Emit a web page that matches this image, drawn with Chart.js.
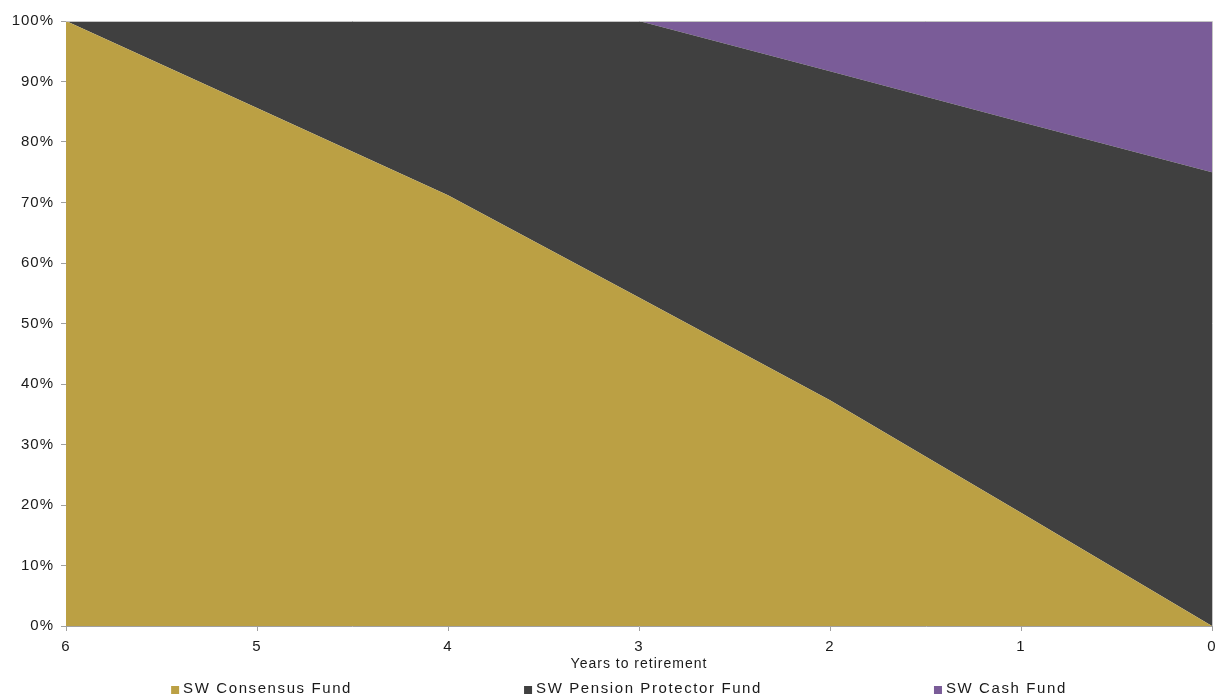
<!DOCTYPE html>
<html>
<head>
<meta charset="utf-8">
<title>Glide path</title>
<script src="https://cdn.jsdelivr.net/npm/chart.js@4/dist/chart.umd.min.js"></script>
<style>
  html, body { margin: 0; padding: 0; background: #ffffff; }
  canvas { display: block; }
</style>
</head>
<body>
<canvas id="chart" width="1220" height="695"></canvas>
<script>
// Years remaining until retirement (left to right)
const years = ['6', '5', '4', '3', '2', '1', '0'];

// Allocation to each fund, percent of the pot
const consensusFund = [100, 85.6, 71.2, 54.3, 37.3, 18.7, 0];
const protectorFund = [0, 14.4, 28.8, 45.7, 54.4, 64.6, 75];
const cashFund = [0, 0, 0, 0, 8.3, 16.7, 25];

const seriesNames = ['SW Consensus Fund', 'SW Pension Protector Fund', 'SW Cash Fund'];
const seriesColors = ['#BBA044', '#404040', '#7A5C98'];

const yTicks = [0, 10, 20, 30, 40, 50, 60, 70, 80, 90, 100];

const FONT = '"Liberation Sans", Arial, sans-serif';
const TEXT = '#1A1A1A';

// Slightly tracked-out text, as in the original office-style rendering
const spacing = {
  id: 'spacing',
  beforeDraw(chart) { chart.ctx.letterSpacing = '1px'; }
};

// Light frame round the plot area on the top and right
const frame = {
  id: 'frame',
  afterDatasetsDraw(chart) {
    const { ctx, chartArea: a } = chart;
    ctx.save();
    ctx.strokeStyle = '#C4C4C4';
    ctx.lineWidth = 1;
    ctx.beginPath();
    ctx.moveTo(a.left, a.top + 0.5);
    ctx.lineTo(a.right + 0.5, a.top + 0.5);
    ctx.lineTo(a.right + 0.5, a.bottom);
    ctx.stroke();
    ctx.restore();
  }
};

// Legend row under the axis title, items separated by wide gaps
const legendRow = {
  id: 'legendRow',
  afterDraw(chart) {
    const { ctx } = chart;
    ctx.save();
    ctx.font = '15px ' + FONT;
    ctx.letterSpacing = '1.6px';
    ctx.textBaseline = 'middle';
    ctx.textAlign = 'left';
    const box = 8, gapBox = 4, gapItem = 172;
    const widths = chart.data.datasets.map(d => box + gapBox + ctx.measureText(d.label).width);
    const total = widths.reduce((s, w) => s + w, 0) + gapItem * (widths.length - 1);
    let x = chart.width / 2 + 9 - total / 2;
    const y = 689;
    chart.data.datasets.forEach((d, i) => {
      ctx.fillStyle = d.backgroundColor;
      ctx.fillRect(x, y - 3, box, box);
      ctx.fillStyle = TEXT;
      ctx.fillText(d.label, x + box + gapBox, y);
      x += widths[i] + gapItem;
    });
    ctx.restore();
  }
};

const series = [consensusFund, protectorFund, cashFund];

new Chart(document.getElementById('chart'), {
  type: 'line',
  data: {
    labels: years,
    datasets: series.map((values, i) => ({
      label: seriesNames[i],
      data: values,
      backgroundColor: seriesColors[i],
      borderColor: seriesColors[i],
      borderWidth: 0,
      pointRadius: 0,
      tension: 0,
      fill: i === 0 ? 'origin' : '-1'
    }))
  },
  options: {
    responsive: false,
    animation: false,
    layout: { padding: { top: 21, right: 8, bottom: 22, left: 0 } },
    plugins: {
      legend: { display: false },
      tooltip: { enabled: false }
    },
    scales: {
      x: {
        offset: false,
        grid: { drawOnChartArea: false, drawTicks: true, tickLength: 5, color: '#A0A0A0' },
        border: { color: '#A0A0A0' },
        ticks: { color: TEXT, font: { family: FONT, size: 15 }, padding: 7, maxRotation: 0, autoSkip: false },
        title: {
          display: true,
          text: 'Years to retirement',
          color: TEXT,
          font: { family: FONT, size: 14 },
          padding: { top: 0, bottom: 0 }
        },
        afterFit(scale) {
          scale.height = 47;
          scale.paddingLeft = 0;
          scale.paddingRight = 0;
        }
      },
      y: {
        stacked: true,
        min: 0,
        max: 100,
        grid: { drawOnChartArea: false, drawTicks: true, tickLength: 5, color: '#A0A0A0' },
        border: { color: '#A0A0A0' },
        afterBuildTicks(scale) { scale.ticks = yTicks.map(v => ({ value: v })); },
        ticks: {
          color: TEXT,
          font: { family: FONT, size: 15 },
          padding: 7,
          callback: v => v + '%'
        },
        afterFit(scale) {
          scale.width = 66;
          scale.paddingTop = 0;
          scale.paddingBottom = 0;
        }
      }
    }
  },
  plugins: [spacing, frame, legendRow]
});
</script>
</body>
</html>
